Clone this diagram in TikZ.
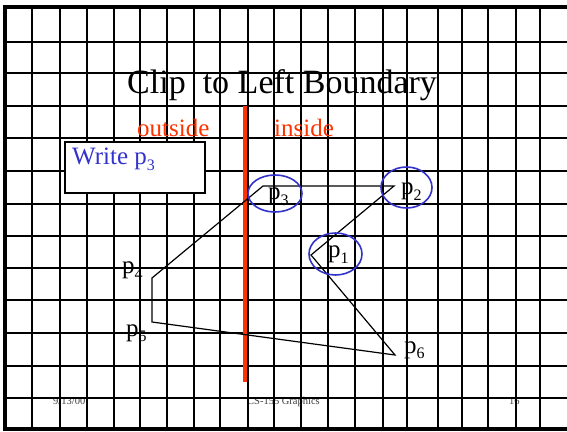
\documentclass[tikz,border=0pt]{standalone}
\usepackage{fontspec}
\setmainfont{Liberation Serif}
\usetikzlibrary{shapes.geometric}
\definecolor{redline}{RGB}{255,51,0}
\definecolor{ptblue}{RGB}{51,51,204}
\newcommand\psub[1]{\raisebox{-0.22em}{\fontsize{16}{16}\selectfont#1}}
\begin{document}
\begin{tikzpicture}[x=1pt,y=-1pt,
  gridline/.style={line width=2.6pt},
  borderline/.style={line width=3.6pt},
  lbl/.style={anchor=base west, inner sep=0pt, font=\fontsize{25}{25}\selectfont},
  ring/.style={draw=ptblue, line width=1.6pt, ellipse, inner sep=0pt},
  poly/.style={line width=1.2pt, line join=miter},
  foot/.style={anchor=base west, inner sep=0pt, font=\fontsize{10.5}{10.5}\selectfont, text=black!75},
  redtext/.style={anchor=base west, inner sep=0pt, font=\fontsize{25}{25}\selectfont, text=redline}]
\useasboundingbox (0,0) rectangle (567,431);
\fill[white] (0,0) rectangle (567,431);
% footer (under the grid)
\node[foot] (date) at (53,404) {9/13/00};
\node[foot] (course) at (247,404) {CS-155 Graphics};
\node[foot] (page) at (509,404) {16};
% grid
\foreach \x in {32,60,87,114,140,167,194,220,248,274,301,328,355,383,407,438,462,488,516,540}
  \draw[gridline] (\x,7) -- (\x,429);
\foreach \y in {42,73,106,138,171,204,236,268,300,333,366,398}
  \draw[gridline] (5,\y) -- (567,\y);
\draw[borderline] (567,7) -- (5,7) -- (5,429) -- (567,429);
% title
\node[anchor=base west, inner sep=0pt, font=\fontsize{34}{34}\selectfont] (title) at (127,93.5) {Clip\ \ to Left Boundary};
\node[redtext] (outside) at (137,136) {outside};
\node[redtext] (inside) at (274,136) {inside};
% boundary
\coordinate (btop) at (245,106);
\coordinate (bbot) at (245,382);
\draw[redline, line width=4pt] (btop) -- (bbot);
% write box
\node[draw, fill=white, line width=1.8pt, minimum width=140pt, minimum height=51pt, anchor=north west, inner sep=0pt] (wbox) at (64,141) {};
\node[lbl, text=ptblue] (wtext) at (72,164.5) {Write p\psub{3}};
% polygon
\coordinate (v1) at (311,255);
\coordinate (v2) at (394,186);
\coordinate (v3) at (263,186);
\coordinate (v4) at (152,278);
\coordinate (v5) at (152,322);
\coordinate (v6) at (395,355);
\draw[poly] (v3) -- (v4) -- (v5) -- (v6) -- (v1) -- (v2) -- cycle;
% rings
\node[ring, minimum width=54pt, minimum height=37pt] (r3) at (275,193.5) {};
\node[ring, minimum width=51pt, minimum height=41pt] (r2) at (406.5,187.5) {};
\node[ring, minimum width=53pt, minimum height=42pt] (r1) at (335.5,254) {};
% labels
\node[lbl] (l3) at (268,199.5) {p\psub{3}};
\node[lbl] (l2) at (401,194.5) {p\psub{2}};
\node[lbl] (l1) at (328,257.5) {p\psub{1}};
\node[lbl] (l4) at (122,273.5) {p\psub{4}};
\node[lbl] (l5) at (126,336) {p\psub{5}};
\node[lbl] (l6) at (404,353) {p\psub{6}};
\end{tikzpicture}
\end{document}
